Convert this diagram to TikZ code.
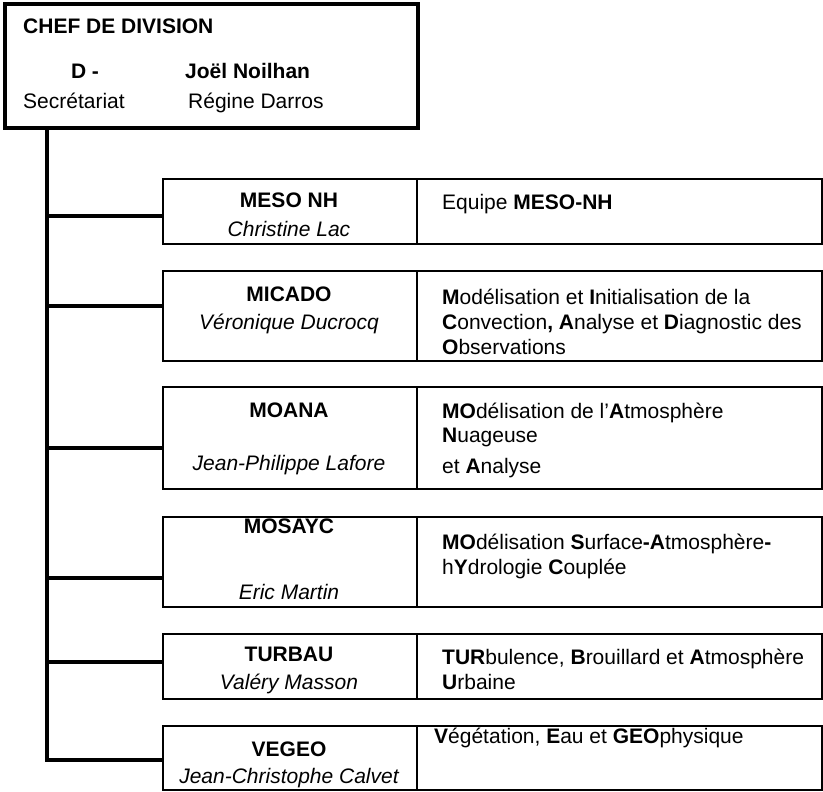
\documentclass[tikz,border=0pt]{standalone}
\usepackage{fontspec}
\setmainfont{Liberation Sans}
\usepackage{tikz}
\tikzset{
  chefbox/.style={draw=black,line width=4pt,anchor=north west,inner sep=0pt,
    minimum width=413pt,minimum height=124pt},
  teamcell/.style={draw=black,line width=2pt,anchor=north west,inner sep=0pt,
    minimum width=254pt},
  topiccell/.style={draw=black,line width=2pt,anchor=north west,inner sep=0pt,
    minimum width=405pt},
  label/.style={font=\fontsize{21}{25}\selectfont,inner sep=0pt},
  teamname/.style={label,font=\fontsize{21}{25}\selectfont\bfseries,anchor=mid},
  leader/.style={label,font=\fontsize{21}{25}\selectfont\itshape,anchor=mid},
  topic/.style={label,anchor=north west,align=left},
  branch/.style={draw=black,line width=4pt}
}

\begin{document}
\begin{tikzpicture}[x=1pt,y=-1pt]
  \useasboundingbox (0,0) rectangle (823,792);

  % chef de division
  \node[chefbox] (chef) at (3,2) {};
  \node[label,font=\fontsize{21}{25}\selectfont\bfseries,anchor=mid west] (cheftitle) at (23,31) {CHEF DE DIVISION};
  \node[label,font=\fontsize{21}{25}\selectfont\bfseries,anchor=mid] (chefd) at (85,76) {D -};
  \node[label,font=\fontsize{21}{25}\selectfont\bfseries,anchor=mid west] (chefname) at (185,76) {Joël Noilhan};
  \node[label,anchor=mid west] (secr) at (23,106) {Secrétariat};
  \node[label,anchor=mid west] (secrname) at (188,106) {Régine Darros};

  % equipes
  \node[teamcell,minimum height=65pt] (mesoL) at (162,178) {};
  \node[topiccell,minimum height=65pt] (mesoR) at (416,178) {};
  \node[teamcell,minimum height=90pt] (micadoL) at (162,270) {};
  \node[topiccell,minimum height=90pt] (micadoR) at (416,270) {};
  \node[teamcell,minimum height=102pt] (moanaL) at (162,386) {};
  \node[topiccell,minimum height=102pt] (moanaR) at (416,386) {};
  \node[teamcell,minimum height=90pt] (mosaycL) at (162,516) {};
  \node[topiccell,minimum height=90pt] (mosaycR) at (416,516) {};
  \node[teamcell,minimum height=65pt] (turbauL) at (162,633) {};
  \node[topiccell,minimum height=65pt] (turbauR) at (416,633) {};
  \node[teamcell,minimum height=64pt] (vegeoL) at (162,725) {};
  \node[topiccell,minimum height=64pt] (vegeoR) at (416,725) {};

  \node[teamname] (meso) at (289,205) {MESO NH};
  \node[leader] (lac) at (289,234) {Christine Lac};
  \node[teamname] (micado) at (289,299) {MICADO};
  \node[leader] (ducrocq) at (289,327) {Véronique Ducrocq};
  \node[teamname] (moana) at (289,415) {MOANA};
  \node[leader] (lafore) at (289,468) {Jean-Philippe Lafore};
  \node[teamname] (mosayc) at (289,531) {MOSAYC};
  \node[leader] (martin) at (289,597) {Eric Martin};
  \node[teamname] (turbau) at (289,659) {TURBAU};
  \node[leader] (masson) at (289,687) {Valéry Masson};
  \node[teamname] (vegeo) at (289,754) {VEGEO};
  \node[leader] (calvet) at (289,781) {Jean-Christophe Calvet};

  \node[topic] (mesotxt) at (442,194) {Equipe \textbf{MESO-NH}};
  \node[topic] (micadotxt) at (442,289) {\textbf{M}odélisation et \textbf{I}nitialisation de la\\
    \textbf{C}onvection\textbf{,} \textbf{A}nalyse et \textbf{D}iagnostic des\\
    \textbf{O}bservations};
  \node[topic] (moanatxt) at (442,403) {\textbf{MO}délisation de l’\textbf{A}tmosphère\\[-1pt]
    \textbf{N}uageuse\\[6pt]
    et \textbf{A}nalyse};
  \node[topic] (mosayctxt) at (442,534) {\textbf{MO}délisation \textbf{S}urface\textbf{-A}tmosphère\textbf{-}\\
    h\textbf{Y}drologie \textbf{C}ouplée};
  \node[topic] (turbautxt) at (442,649) {\textbf{TUR}bulence, \textbf{B}rouillard et \textbf{A}tmosphère\\
    \textbf{U}rbaine};
  \node[topic] (vegeotxt) at (434,728) {\textbf{V}égétation, \textbf{E}au et \textbf{GEO}physique};

  % organigramme
  \coordinate (s1) at (47,216);
  \coordinate (s2) at (47,306);
  \coordinate (s3) at (47,448);
  \coordinate (s4) at (47,578);
  \coordinate (s5) at (47,662);
  \coordinate (s6) at (47,760);
  \draw[branch] (chef.south -| s6) -- (s6) -- (s6 -| vegeoL.west);
  \draw[branch] (s1) -- (s1 -| mesoL.west);
  \draw[branch] (s2) -- (s2 -| micadoL.west);
  \draw[branch] (s3) -- (s3 -| moanaL.west);
  \draw[branch] (s4) -- (s4 -| mosaycL.west);
  \draw[branch] (s5) -- (s5 -| turbauL.west);
\end{tikzpicture}
\end{document}
